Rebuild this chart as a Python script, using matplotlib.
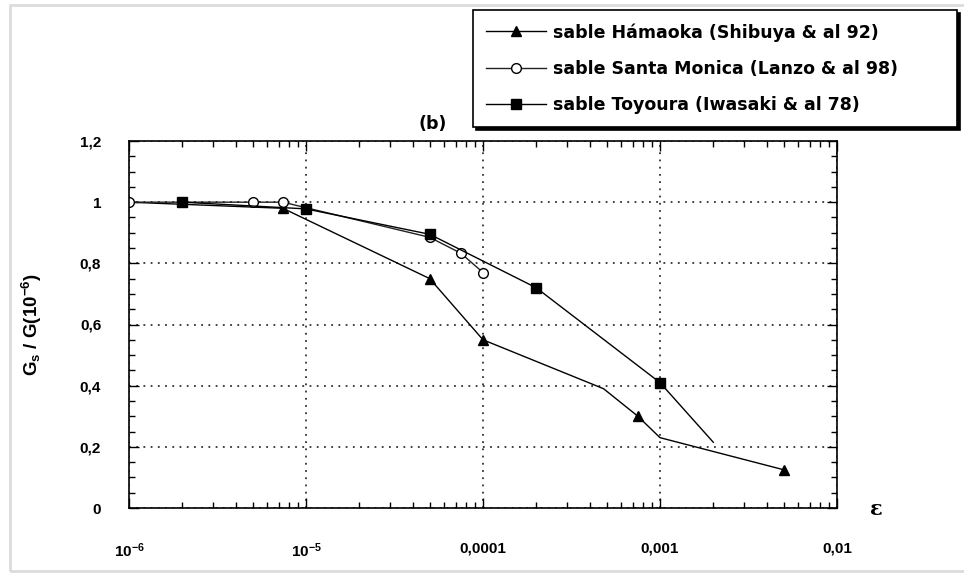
import numpy as np
import matplotlib
matplotlib.use('Agg')
import matplotlib.pyplot as plt
from matplotlib.ticker import FixedLocator, MultipleLocator, LogLocator, NullFormatter
from matplotlib.patches import Rectangle

plt.rcParams['font.family'] = ['Liberation Sans', 'DejaVu Sans']
plt.rcParams['font.weight'] = 'bold'
plt.rcParams['mathtext.fontset'] = 'custom'
plt.rcParams['mathtext.rm'] = 'Liberation Sans:bold'
plt.rcParams['mathtext.it'] = 'Liberation Sans:bold'
plt.rcParams['mathtext.bf'] = 'Liberation Sans:bold'

# ── données: déformation ε et rapport G_s / G(10^-6) ──
hamaoka_eps = [1e-6, 7.4e-6, 5e-5, 1e-4, 4.8e-4, 7.5e-4, 1e-3, 5e-3]
hamaoka_g = [1.0, 0.98, 0.75, 0.55, 0.39, 0.30, 0.23, 0.125]
hamaoka_marks = [1, 2, 3, 5, 7]

monica_eps = [1e-6, 5e-6, 7.4e-6, 5e-5, 7.5e-5, 1e-4]
monica_g = [1.0, 1.0, 1.0, 0.885, 0.833, 0.77]

toyoura_eps = [2e-6, 1e-5, 5e-5, 2e-4, 1e-3, 2e-3]
toyoura_g = [1.0, 0.978, 0.895, 0.72, 0.41, 0.215]
toyoura_marks = [0, 1, 2, 3, 4]

labels = ['sable Hámaoka (Shibuya & al 92)',
          'sable Santa Monica (Lanzo & al 98)',
          'sable Toyoura (Iwasaki & al 78)']

x_ticks = [1e-6, 1e-5, 1e-4, 1e-3, 1e-2]
x_ticklabels = [r'$10^{-6}$', r'$10^{-5}$', '0,0001', '0,001', '0,01']
y_ticks = [0, 0.2, 0.4, 0.6, 0.8, 1.0, 1.2]
y_ticklabels = ['0', '0,2', '0,4', '0,6', '0,8', '1', '1,2']

fig = plt.figure(figsize=(9.64, 5.73), dpi=100)
ax = fig.add_axes([129 / 964, 65 / 573, 708 / 964, 367 / 573])

# cadre gris autour de la figure
fig.patches.append(Rectangle((10 / 964, 2 / 573), 1.0, 566 / 573,
                             transform=fig.transFigure, fill=False,
                             edgecolor='#dcdcdc', linewidth=2.0))

ax.plot(hamaoka_eps, hamaoka_g, color='black', lw=1.0, marker='^', ms=7,
        markevery=hamaoka_marks, mfc='black', mec='black', label=labels[0])
ax.plot(monica_eps, monica_g, color='#222222', lw=1.0, marker='o', ms=7,
        mfc='white', mec='black', mew=1.0, label=labels[1])
ax.plot(toyoura_eps, toyoura_g, color='black', lw=1.0, marker='s', ms=7,
        markevery=toyoura_marks, mfc='black', mec='black', label=labels[2])

ax.set_xscale('log')
ax.set_xlim(1e-6, 1e-2)
ax.set_ylim(0, 1.2)

ax.xaxis.set_major_locator(FixedLocator(x_ticks))
ax.set_xticklabels(x_ticklabels)
ax.xaxis.set_minor_locator(LogLocator(base=10, subs=np.arange(2, 10)))
ax.xaxis.set_minor_formatter(NullFormatter())
ax.set_yticks(y_ticks)
ax.set_yticklabels(y_ticklabels)
ax.yaxis.set_minor_locator(MultipleLocator(0.05))

ax.tick_params(which='both', direction='in', top=True, right=True,
               width=1.0, labelsize=11)
ax.tick_params(which='major', length=7)
ax.tick_params(which='minor', length=4)
ax.tick_params(axis='x', which='major', pad=24)
ax.tick_params(axis='y', which='major', pad=20)

for sp in ax.spines.values():
    sp.set_linewidth(1.2)

ax.grid(True, which='major', color='#333333', linestyle=(0, (1, 3)), lw=1.3)

ax.set_ylabel(r'G$_{s}$ / G(10$^{-6}$)', fontsize=13.5, fontweight='bold',
              labelpad=26)

fig.text(433 / 964, 1 - 124 / 573, '(b)', fontsize=12.5, fontweight='bold',
         family='DejaVu Sans', ha='center', va='center')
fig.text(876 / 964, 1 - 509 / 573, 'ε', fontsize=15,
         family='DejaVu Serif', ha='center', va='center')

# légende encadrée, étirée jusqu'au bord droit
leg_x0, leg_x1 = 473 / 964, 957 / 964
leg_top = 1 - 10 / 573
leg = fig.legend(loc='upper left',
                 bbox_to_anchor=(leg_x0, leg_top - 0.2, leg_x1 - leg_x0, 0.2),
                 mode='expand', borderaxespad=0,
                 prop={'family': 'DejaVu Sans', 'weight': 'bold', 'size': 12.5},
                 handlelength=3.45, handletextpad=0.4,
                 labelspacing=1.05, borderpad=0.75, numpoints=1,
                 fancybox=False, shadow={'color': 'black', 'alpha': 1.0},
                 framealpha=1.0, edgecolor='black')
leg.get_frame().set_linewidth(1.2)

plt.savefig('out.png', dpi=100)
plt.close()
